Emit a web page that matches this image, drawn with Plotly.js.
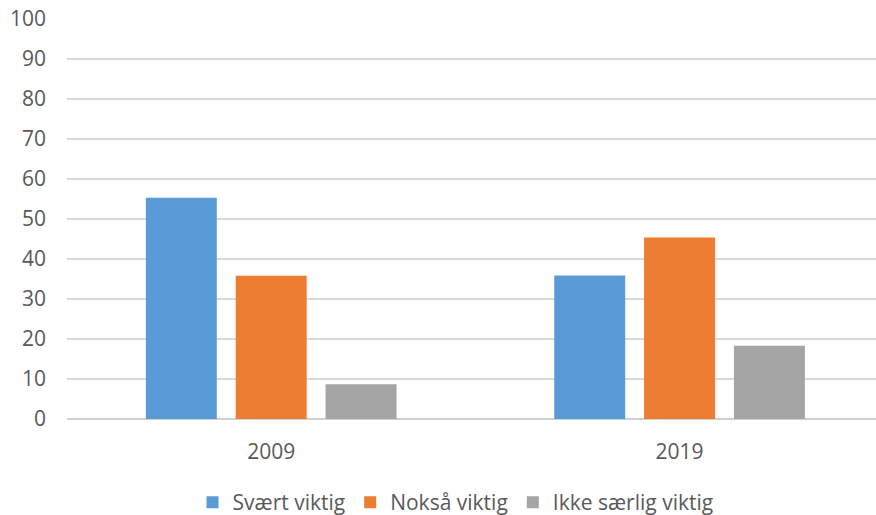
<!DOCTYPE html>
<html>
<head>
<meta charset="utf-8">
<script src="https://cdn.plot.ly/plotly-3.0.1.min.js"></script>
<style>html,body{margin:0;padding:0;background:#fff;}#chart{width:876px;height:515px;}</style>
</head>
<body>
<div id="chart"></div>
<script>
var categories = ["2009", "2019"];
var seriesNames = ["Svært viktig", "Nokså viktig", "Ikke særlig viktig"];
var svaertViktig = [55.3, 35.9];
var noksaViktig = [35.8, 45.4];
var ikkeSaerligViktig = [8.7, 18.3];
var yTicks = [0, 10, 20, 30, 40, 50, 60, 70, 80, 90, 100];

var colors = ["#5B9BD5", "#ED7D31", "#A5A5A5"];
var values = [svaertViktig, noksaViktig, ikkeSaerligViktig];

var traces = values.map(function (v, i) {
  return {
    type: "bar",
    name: seriesNames[i],
    x: categories,
    y: v,
    marker: { color: colors[i] },
    hoverinfo: "x+y+name"
  };
});

var font = "Open Sans, Noto Sans, sans-serif";
var layout = {
  width: 876,
  height: 515,
  margin: { l: 67, r: 0, t: 19, b: 96 },
  paper_bgcolor: "#ffffff",
  plot_bgcolor: "#ffffff",
  barmode: "group",
  bargap: 0.34,
  bargroupgap: 0.21,
  showlegend: true,
  font: { family: font, size: 21, color: "#595959" },
  xaxis: {
    type: "category",
    range: [-0.5, 1.481],
    showgrid: false,
    showline: false,
    zeroline: false,
    ticks: "",
    ticklabelstandoff: 18,
    tickfont: { family: font, size: 21, color: "#595959" }
  },
  yaxis: {
    range: [0, 100],
    tickvals: yTicks,
    ticktext: yTicks.map(String),
    showgrid: true,
    gridcolor: "#d9d9d9",
    gridwidth: 1.3,
    zeroline: true,
    zerolinecolor: "#d0d0d0",
    zerolinewidth: 1.3,
    showline: false,
    ticks: "",
    ticklabelstandoff: 20,
    tickfont: { family: font, size: 21, color: "#595959" }
  },
  legend: {
    orientation: "h",
    xref: "container",
    yref: "container",
    x: 0.52,
    xanchor: "center",
    y: 0.024,
    yanchor: "middle",
    font: { family: font, size: 21, color: "#595959" },
    itemwidth: 30,
    traceorder: "normal"
  }
};

Plotly.newPlot("chart", traces, layout, { displayModeBar: false, staticPlot: true });
</script>
</body>
</html>
